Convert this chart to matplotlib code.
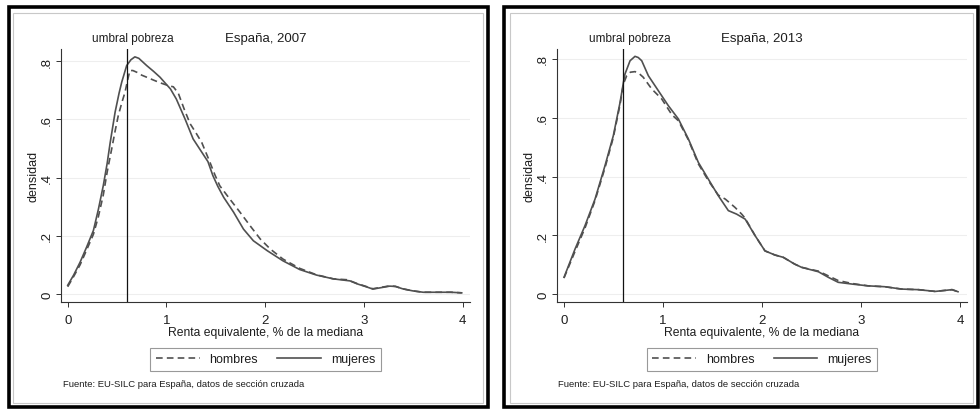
import matplotlib
matplotlib.use("Agg")
import matplotlib.pyplot as plt
from matplotlib.patches import Rectangle
from matplotlib.lines import Line2D

plt.rcParams['font.family'] = ['Liberation Sans', 'DejaVu Sans']

# ---------------- data ----------------
titles = ["España, 2007", "España, 2013"]
series_labels = ["hombres", "mujeres"]
threshold = 0.6
x_ticks = [0, 1, 2, 3, 4]
y_ticks = [0, 0.2, 0.4, 0.6, 0.8]
y_ticklabels = ["0", ".2", ".4", ".6", ".8"]
x_label = "Renta equivalente, % de la mediana"
y_label = "densidad"
threshold_label = "umbral pobreza"
source_text = "Fuente: EU-SILC para España, datos de sección cruzada"

# 2007
m07_x = [0.0, 0.06, 0.125, 0.19, 0.26, 0.31, 0.36, 0.40, 0.43, 0.48, 0.52, 0.547, 0.597, 0.64, 0.68,
         0.72, 0.80, 0.87, 0.935, 1.0, 1.04, 1.10, 1.19, 1.27, 1.37, 1.42, 1.47, 1.52, 1.58, 1.68,
         1.78, 1.88, 2.02, 2.18, 2.35, 2.52, 2.69, 2.86, 2.93, 3.03, 3.09, 3.16, 3.26, 3.32, 3.39,
         3.49, 3.60, 3.75, 3.88, 3.99]
m07_y = [0.03, 0.065, 0.109, 0.16, 0.218, 0.29, 0.372, 0.45, 0.52, 0.625, 0.69, 0.728, 0.785, 0.805, 0.815,
         0.81, 0.785, 0.765, 0.745, 0.72, 0.705, 0.67, 0.60, 0.533, 0.481, 0.455, 0.407, 0.37, 0.332, 0.281,
         0.223, 0.183, 0.149, 0.114, 0.084, 0.065, 0.052, 0.045, 0.035, 0.024, 0.017, 0.021, 0.027, 0.026, 0.018,
         0.011, 0.006, 0.006, 0.006, 0.004]
h07_x = [0.0, 0.06, 0.125, 0.19, 0.26, 0.31, 0.36, 0.40, 0.445, 0.48, 0.512, 0.55, 0.58, 0.61, 0.63,
         0.66, 0.70, 0.75, 0.80, 0.87, 0.935, 1.02, 1.07, 1.12, 1.18, 1.24, 1.30, 1.357, 1.44, 1.49,
         1.54, 1.64, 1.745, 1.846, 1.95, 2.05, 2.18, 2.35, 2.52, 2.69, 2.83, 2.93, 3.03, 3.09, 3.16,
         3.26, 3.32, 3.39, 3.49, 3.60, 3.75, 3.88, 3.99]
h07_y = [0.025, 0.06, 0.10, 0.15, 0.205, 0.265, 0.34, 0.42, 0.498, 0.56, 0.613, 0.66, 0.693, 0.74, 0.768,
         0.768, 0.762, 0.752, 0.745, 0.735, 0.726, 0.716, 0.712, 0.69, 0.635, 0.585, 0.553, 0.521, 0.453, 0.41,
         0.372, 0.327, 0.281, 0.235, 0.189, 0.155, 0.12, 0.088, 0.066, 0.052, 0.049, 0.036, 0.025, 0.018, 0.022,
         0.028, 0.026, 0.018, 0.011, 0.006, 0.006, 0.006, 0.004]

# 2013
m13_x = [0.0, 0.111, 0.212, 0.313, 0.414, 0.498, 0.566, 0.60, 0.616, 0.667, 0.717, 0.75, 0.785, 0.852,
         0.953, 1.054, 1.155, 1.256, 1.357, 1.458, 1.558, 1.66, 1.744, 1.83, 1.93, 2.03, 2.13, 2.215,
         2.33, 2.40, 2.57, 2.67, 2.77, 2.91, 3.07, 3.24, 3.41, 3.58, 3.75, 3.92, 3.98]
m13_y = [0.057, 0.153, 0.233, 0.323, 0.437, 0.539, 0.652, 0.72, 0.749, 0.794, 0.809, 0.805, 0.794, 0.743,
         0.692, 0.641, 0.596, 0.528, 0.448, 0.391, 0.335, 0.284, 0.272, 0.255, 0.199, 0.147, 0.133, 0.125,
         0.102, 0.091, 0.076, 0.057, 0.040, 0.034, 0.028, 0.025, 0.017, 0.015, 0.009, 0.015, 0.008]
h13_x = [0.0, 0.111, 0.212, 0.313, 0.414, 0.498, 0.566, 0.60, 0.633, 0.67, 0.717, 0.76, 0.80, 0.886,
         0.987, 1.09, 1.155, 1.256, 1.357, 1.458, 1.558, 1.63, 1.727, 1.795, 1.83, 1.93, 2.03, 2.13,
         2.215, 2.33, 2.40, 2.57, 2.67, 2.77, 2.91, 3.07, 3.24, 3.41, 3.58, 3.75, 3.92, 3.98]
h13_y = [0.055, 0.145, 0.225, 0.318, 0.43, 0.533, 0.645, 0.715, 0.743, 0.755, 0.757, 0.75, 0.738, 0.698,
         0.664, 0.61, 0.59, 0.525, 0.443, 0.386, 0.337, 0.323, 0.295, 0.272, 0.258, 0.199, 0.147, 0.133,
         0.125, 0.102, 0.091, 0.078, 0.062, 0.046, 0.036, 0.028, 0.025, 0.017, 0.015, 0.009, 0.015, 0.008]

panels = [
    (titles[0], h07_x, h07_y, m07_x, m07_y),
    (titles[1], h13_x, h13_y, m13_x, m13_y),
]

# ---------------- layout ----------------
W, H = 980, 410
fig = plt.figure(figsize=(W / 100, H / 100), dpi=100)
fig.patch.set_facecolor('white')


def fx(px):
    return px / W


def fy(py):
    return 1 - py / H


def rect_px(x0, y0, x1, y1, **kw):
    r = Rectangle((fx(x0), fy(y1)), fx(x1) - fx(x0), fy(y0) - fy(y1),
                  transform=fig.transFigure, fill=False, **kw)
    fig.add_artist(r)


panel_geo = [
    dict(ax=(60.7, 50, 470, 303), frame=(9, 8, 488, 408), inner=(13, 14, 483, 404),
         xlim=(-0.071, 4.074), ylim=(-0.0275, 0.842), leg=(265.5, 360.5), src=(63, 385)),
    dict(ax=(556.7, 50, 966.7, 303), frame=(504, 8, 978, 408), inner=(510, 14, 973, 404),
         xlim=(-0.074, 4.068), ylim=(-0.027, 0.834), leg=(762, 360.5), src=(558, 385)),
]

curve_color = '#505050'
text_color = '#1e1e1e'

for (title, hx, hy, mx, my), g in zip(panels, panel_geo):
    rect_px(*g['frame'], edgecolor='black', linewidth=2.6, zorder=10)
    rect_px(*g['inner'], edgecolor='#c8c8c8', linewidth=0.8, zorder=9)

    x0, y0, x1, y1 = g['ax']
    ax = fig.add_axes([fx(x0), fy(y1), fx(x1) - fx(x0), fy(y0) - fy(y1)])
    ax.set_facecolor('white')
    for s in ['top', 'right']:
        ax.spines[s].set_visible(False)
    for s in ['left', 'bottom']:
        ax.spines[s].set_color('#333333')
        ax.spines[s].set_linewidth(0.8)

    ax.set_xlim(*g['xlim'])
    ax.set_ylim(*g['ylim'])
    ax.set_xticks(x_ticks)
    ax.set_xticklabels([str(t) for t in x_ticks])
    ax.set_yticks(y_ticks)
    ax.set_yticklabels(y_ticklabels, rotation=90, va='center')
    ax.tick_params(axis='both', direction='out', length=3.5, width=0.7, colors='#333333',
                   labelsize=9.5, labelcolor=text_color)
    ax.tick_params(axis='x', pad=5.5)
    ax.tick_params(axis='y', pad=2.0)
    ax.grid(axis='y', color='#eeeeee', linewidth=0.8)
    ax.set_axisbelow(True)

    ax.plot(hx, hy, color=curve_color, linewidth=1.2, dashes=(4, 2.5), label=series_labels[0])
    ax.plot(mx, my, color=curve_color, linewidth=1.2, label=series_labels[1])
    ax.axvline(threshold, color='#111111', linewidth=0.9)

    ax.set_xlabel(x_label, fontsize=8.7, color=text_color, labelpad=0)
    ax.set_ylabel(y_label, fontsize=9, color=text_color, labelpad=1)

    ax.annotate(threshold_label, xy=(threshold, 1), xycoords=('data', 'axes fraction'),
                xytext=(4.3, 8), textcoords='offset points', ha='center', va='center',
                fontsize=8.5, color=text_color)
    ax.annotate(title, xy=(0.5, 1), xycoords='axes fraction',
                xytext=(0, 8), textcoords='offset points', ha='center', va='center',
                fontsize=9.5, color=text_color)

    handles = [Line2D([], [], color=curve_color, linewidth=1.2, dashes=(4, 2.5)),
               Line2D([], [], color=curve_color, linewidth=1.2)]
    lx, ly = g['leg']
    leg = fig.legend(handles, series_labels, loc='center', bbox_to_anchor=(fx(lx), fy(ly)),
                     ncol=2, frameon=True, fancybox=False, fontsize=9, handlelength=3.5,
                     columnspacing=1.5, handletextpad=0.8, borderpad=0.45, borderaxespad=0,
                     labelcolor=text_color)
    leg.get_frame().set_edgecolor('#808080')
    leg.get_frame().set_linewidth(0.8)

    sx, sy = g['src']
    fig.text(fx(sx), fy(sy), source_text, ha='left', va='center', fontsize=6.8, color=text_color)

fig.savefig('out.png', dpi=100, facecolor='white')
